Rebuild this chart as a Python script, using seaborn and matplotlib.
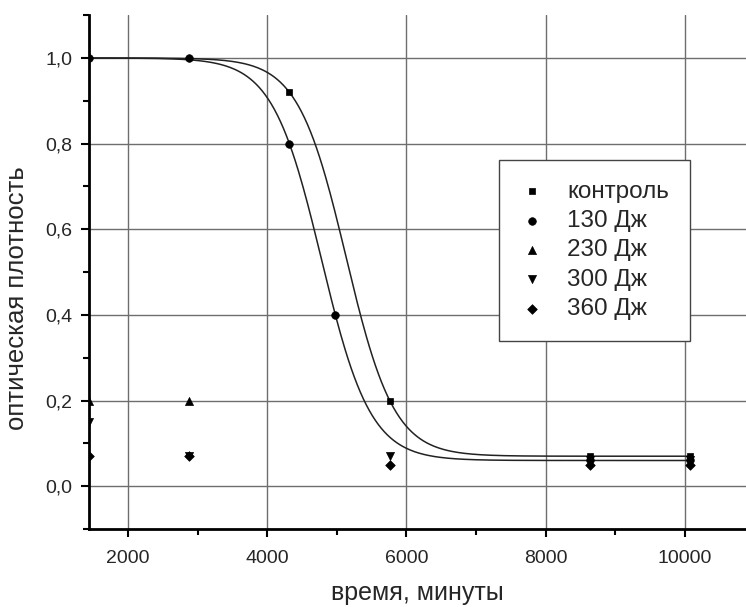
import numpy as np
import pandas as pd
import matplotlib
matplotlib.use("Agg")
import matplotlib.pyplot as plt
from matplotlib.ticker import MultipleLocator, FuncFormatter
import seaborn as sns

# measurement times, minutes (1..7 days)
time_min = [1440, 2880, 4320, 5760, 8640, 10080]
time_130 = [1440, 2880, 4320, 4980, 8640, 10080]

control = [np.nan, np.nan, 0.92, 0.20, 0.07, 0.07]
dose_130 = [1.00, 1.00, 0.80, 0.40, 0.06, 0.06]
dose_230 = [0.20, 0.20, np.nan, np.nan, np.nan, np.nan]
dose_300 = [0.15, 0.07, np.nan, 0.07, 0.06, 0.06]
dose_360 = [0.07, 0.07, np.nan, 0.05, 0.05, 0.05]

series_names = ["контроль", "130 Дж", "230 Дж", "300 Дж", "360 Дж"]
series_markers = ["s", "o", "^", "v", "D"]
series_sizes = [24, 30, 34, 34, 24]

# Boltzmann fit parameters (A1, A2, x0, dx) for control and 130 J
fit_control = (1.0, 0.07, 5134.0, 345.0)
fit_130 = (1.0, 0.06, 4780.0, 352.0)

x_ticks = [2000, 4000, 6000, 8000, 10000]
y_ticks = [0.0, 0.2, 0.4, 0.6, 0.8, 1.0]

xlabel = "время, минуты"
ylabel = "оптическая плотность"


def boltzmann(x, a1, a2, x0, dx):
    return a2 + (a1 - a2) / (1.0 + np.exp((x - x0) / dx))


sns.set_theme(style="ticks")
plt.rcParams["font.family"] = ["Liberation Sans", "DejaVu Sans"]

fig = plt.figure(figsize=(7.46, 6.07), dpi=100)
ax = fig.add_axes([0.1193, 0.1285, 0.8807, 0.8465])

# grid
ax.set_axisbelow(True)
ax.grid(True, which="major", color="#6e6e6e", linewidth=1.0)

# fitted curves
xs = np.linspace(time_min[0], time_min[-1], 400)
for params in (fit_control, fit_130):
    curve = pd.DataFrame({"x": xs, "y": boltzmann(xs, *params)})
    sns.lineplot(data=curve, x="x", y="y", ax=ax, color="#222222",
                 linewidth=1.1, legend=False, estimator=None, sort=False)

# measured points
values = [control, dose_130, dose_230, dose_300, dose_360]
times = [time_min, time_130, time_min, time_min, time_min]
for name, t, v, m, s in zip(series_names, times, values, series_markers, series_sizes):
    df = pd.DataFrame({"t": t, "v": v}).dropna()
    sns.scatterplot(data=df, x="t", y="v", ax=ax, marker=m, s=s,
                    color="black", edgecolor="black", linewidth=0.5,
                    label=name, zorder=5)

ax.set_xlim(1440, 10880)
ax.set_ylim(-0.1, 1.1)
ax.set_xticks(x_ticks)
ax.set_yticks(y_ticks)
ax.xaxis.set_minor_locator(MultipleLocator(1000))
ax.yaxis.set_minor_locator(MultipleLocator(0.1))
ax.yaxis.set_major_formatter(FuncFormatter(lambda v, p: f"{v:.1f}".replace(".", ",")))
ax.xaxis.set_major_formatter(FuncFormatter(lambda v, p: f"{int(v)}"))

ax.tick_params(axis="both", which="major", direction="out", length=6,
               width=1.5, color="black", labelsize=14, pad=6)
ax.tick_params(axis="both", which="minor", direction="out", length=4,
               width=1.5, color="black")
ax.tick_params(axis="x", which="major", pad=9)

for side in ("top", "right"):
    ax.spines[side].set_visible(False)
for side in ("left", "bottom"):
    ax.spines[side].set_linewidth(2.0)
    ax.spines[side].set_color("black")
    ax.spines[side].set_zorder(6)

ax.set_xlabel(xlabel, fontsize=18, labelpad=10)
ax.set_ylabel(ylabel, fontsize=18.5)
ax.yaxis.set_label_coords(-0.092, 0.45)

leg = ax.legend(loc="upper left", bbox_to_anchor=(0.624, 0.718),
                borderaxespad=0, fontsize=17.5, frameon=True, fancybox=False,
                handletextpad=0.95, labelspacing=0.3, borderpad=0.85,
                handlelength=1.0, markerscale=1.0)
leg.get_frame().set_edgecolor("#444444")
leg.get_frame().set_linewidth(1.0)
leg.get_frame().set_alpha(1.0)

fig.savefig("out.png", dpi=100)
